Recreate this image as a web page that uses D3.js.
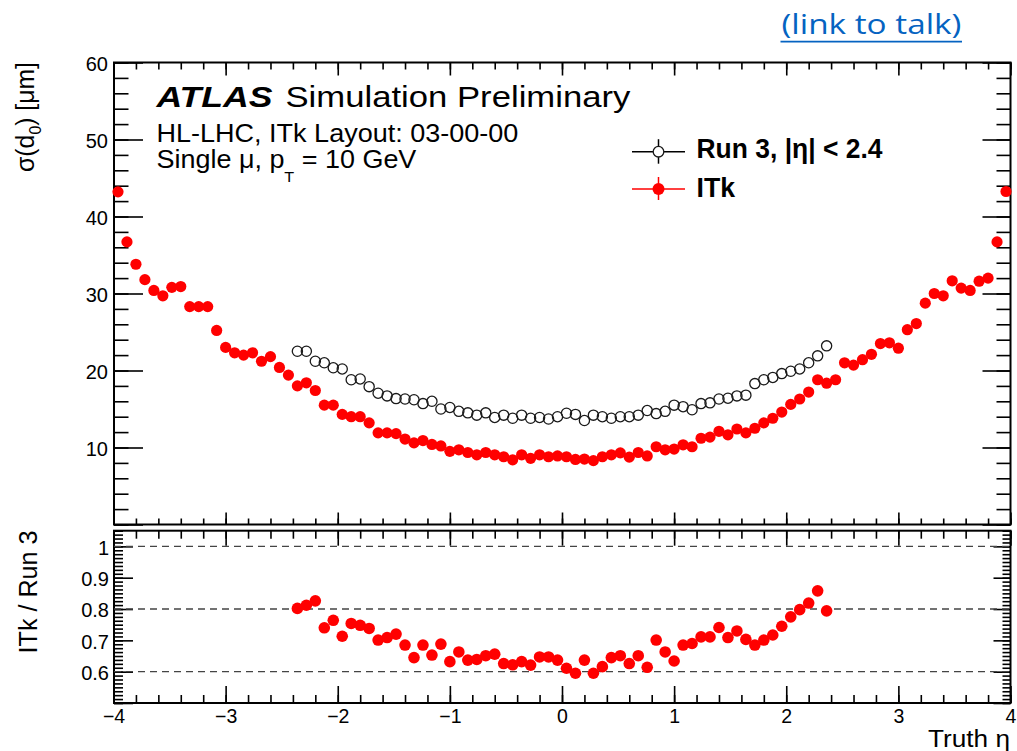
<!DOCTYPE html>
<html>
<head>
<meta charset="utf-8">
<script src="https://cdn.jsdelivr.net/npm/d3@7"></script>
<style>
  html, body { margin: 0; padding: 0; background: #fff; }
  svg { display: block; }
</style>
</head>
<body>
<svg id="chart" width="1017" height="751"></svg>
<script>
// Bin centres in truth eta (100 bins over -4..4)
const etaCentres = [
  -3.96,-3.88,-3.80,-3.72,-3.64,-3.56,-3.48,-3.40,-3.32,-3.24,
  -3.16,-3.08,-3.00,-2.92,-2.84,-2.76,-2.68,-2.60,-2.52,-2.44,
  -2.36,-2.28,-2.20,-2.12,-2.04,-1.96,-1.88,-1.80,-1.72,-1.64,
  -1.56,-1.48,-1.40,-1.32,-1.24,-1.16,-1.08,-1.00,-0.92,-0.84,
  -0.76,-0.68,-0.60,-0.52,-0.44,-0.36,-0.28,-0.20,-0.12,-0.04,
   0.04, 0.12, 0.20, 0.28, 0.36, 0.44, 0.52, 0.60, 0.68, 0.76,
   0.84, 0.92, 1.00, 1.08, 1.16, 1.24, 1.32, 1.40, 1.48, 1.56,
   1.64, 1.72, 1.80, 1.88, 1.96, 2.04, 2.12, 2.20, 2.28, 2.36,
   2.44, 2.52, 2.60, 2.68, 2.76, 2.84, 2.92, 3.00, 3.08, 3.16,
   3.24, 3.32, 3.40, 3.48, 3.56, 3.64, 3.72, 3.80, 3.88, 3.96
];

// sigma(d0) [um] for the ITk layout, one value per bin
const itkSigma = [
  43.2, 36.7, 33.8, 31.8, 30.4, 29.7, 30.8, 30.9, 28.3, 28.3,
  28.3, 25.2, 23.0, 22.3, 22.0, 22.3, 21.2, 21.8, 20.4, 19.4,
  18.0, 18.4, 17.4, 15.5, 15.5, 14.3, 14.0, 14.0, 13.2, 11.9,
  11.9, 11.8, 11.1, 10.6, 10.9, 10.4, 10.2,  9.5,  9.7,  9.35,
   9.05, 9.35, 9.05, 8.8,  8.4,  9.05, 8.6,  9.05, 8.8,  8.9,
   8.8,  8.45, 8.5,  8.3,  8.8,  9.05, 9.3,  8.75, 9.35, 8.9,
  10.1,  9.7,  9.8, 10.35,10.1, 11.2, 11.35,12.1, 11.65,12.4,
  11.9, 12.5, 13.2, 13.8, 14.6, 15.6, 16.3, 17.2, 18.8, 18.35,
  18.8, 21.0, 20.7, 21.4, 22.1, 23.5, 23.6, 22.9, 25.3, 26.1,
  28.75,30.0, 29.7, 31.65,30.7, 30.4, 31.6, 32.0, 36.7, 43.25
];

// Run 3 detector covers |eta| < 2.4: bins 20..79
const run3Eta = etaCentres.slice(20, 80);
const run3Sigma = [
  22.5, 22.5, 21.2, 21.0, 20.35,20.2, 18.8, 18.9, 17.9, 17.05,
  16.7, 16.35,16.3, 16.2, 15.7, 16.0, 15.0, 15.2, 14.7, 14.5,
  14.2, 14.5, 13.9, 14.2, 13.8, 14.2, 13.8, 13.9, 13.7, 14.0,
  14.45,14.3, 13.5, 14.2, 14.0, 13.8, 14.0, 14.0, 14.2, 14.8,
  14.4, 14.7, 15.5, 15.3, 14.9, 15.7, 15.8, 16.3, 16.4, 16.7,
  16.8, 18.3, 18.8, 19.1, 19.6, 19.9, 20.2, 21.0, 21.9, 23.2
];

// ITk / Run 3 ratio over the same bins
const ratioEta = run3Eta;
const ratioValues = [
  0.802, 0.812, 0.826, 0.740, 0.764, 0.713, 0.754, 0.748, 0.738, 0.701,
  0.709, 0.720, 0.685, 0.645, 0.685, 0.653, 0.688, 0.632, 0.663, 0.637,
  0.639, 0.651, 0.656, 0.626, 0.622, 0.632, 0.621, 0.647, 0.647, 0.637,
  0.611, 0.595, 0.637, 0.595, 0.616, 0.645, 0.651, 0.626, 0.651, 0.614,
  0.701, 0.663, 0.634, 0.685, 0.690, 0.711, 0.711, 0.741, 0.709, 0.730,
  0.703, 0.685, 0.701, 0.717, 0.745, 0.775, 0.798, 0.819, 0.858, 0.794
];

// Axis ticks and labels
const xTicks = [-4, -3, -2, -1, 0, 1, 2, 3, 4];
const xTickLabels = ["\u22124", "\u22123", "\u22122", "\u22121", "0", "1", "2", "3", "4"];
const sigmaTicks = [10, 20, 30, 40, 50, 60];
const ratioTicks = [0.6, 0.7, 0.8, 0.9, 1.0];
const ratioTickLabels = ["0.6", "0.7", "0.8", "0.9", "1"];
const ratioRefLines = [0.6, 0.8, 1.0];

const svg = d3.select("#chart");
svg.append("rect").attr("width", 1017).attr("height", 751).attr("fill", "#fff");

// Frame geometry
const L = 114, R = 1010.5;
const topPanel = { top: 62.5, bottom: 524.5 };
const lowPanel = { top: 530.7, bottom: 703 };

const x = d3.scaleLinear().domain([-4, 4]).range([113.5, 1010.5]);
const ySig = d3.scaleLinear().domain([0, 60]).range([topPanel.bottom, topPanel.top]);
const yRat = d3.scaleLinear().domain([0.5, 1.05]).range([lowPanel.bottom, lowPanel.top]);

const xMinor = d3.range(-4, 4.0001, 0.2).map(v => +v.toFixed(2));
const xMajor = xTicks;
const sigMinor = d3.range(0, 60.001, 2);
const sigMajor = d3.range(0, 60.001, 10);
const ratMinor = d3.range(0.5, 1.0501, 0.0125).map(v => +v.toFixed(4));
const ratMajor = [0.5, 0.6, 0.7, 0.8, 0.9, 1.0];

function tickAxis(axisFn, scale, values, size, tx, ty) {
  const g = svg.append("g")
    .attr("transform", `translate(${tx},${ty})`)
    .call(axisFn(scale).tickValues(values).tickSize(size).tickFormat(""));
  g.select(".domain").remove();
  g.selectAll(".tick line").attr("stroke", "#000").attr("stroke-width", 1.6);
  return g;
}

// ---- upper panel ticks ----
tickAxis(d3.axisBottom, x, xMinor, 7, 0, topPanel.top);
tickAxis(d3.axisBottom, x, xMajor, 13, 0, topPanel.top);
tickAxis(d3.axisTop, x, xMinor, 6, 0, topPanel.bottom);
tickAxis(d3.axisTop, x, xMajor, 12, 0, topPanel.bottom);
tickAxis(d3.axisRight, ySig, sigMinor, 14.5, L, 0);
tickAxis(d3.axisRight, ySig, sigMajor, 29, L, 0);
tickAxis(d3.axisLeft, ySig, sigMinor, 14, R, 0);
tickAxis(d3.axisLeft, ySig, sigMajor, 28, R, 0);

// ---- lower panel ticks ----
tickAxis(d3.axisBottom, x, xMinor, 8, 0, lowPanel.top);
tickAxis(d3.axisBottom, x, xMajor, 15, 0, lowPanel.top);
tickAxis(d3.axisTop, x, xMinor, 8, 0, lowPanel.bottom);
tickAxis(d3.axisTop, x, xMajor, 17, 0, lowPanel.bottom);
tickAxis(d3.axisRight, yRat, ratMinor, 9, L, 0);
tickAxis(d3.axisRight, yRat, ratMajor, 19, L, 0);
tickAxis(d3.axisLeft, yRat, ratMinor, 8, R, 0);
tickAxis(d3.axisLeft, yRat, ratMajor, 17, R, 0);

// Tick labels
function labelAxis(axisFn, scale, values, labels, pad, tx, ty, size) {
  const g = svg.append("g")
    .attr("transform", `translate(${tx},${ty})`)
    .call(axisFn(scale).tickValues(values).tickSize(0).tickPadding(pad)
      .tickFormat((d, i) => labels[i]));
  g.select(".domain").remove();
  g.attr("font-family", "Liberation Sans, Arial, sans-serif")
    .attr("font-size", size);
  g.selectAll("text").attr("fill", "#000");
  return g;
}
labelAxis(d3.axisLeft, ySig, sigmaTicks, sigmaTicks.map(String), 6, L, 2, 20);
labelAxis(d3.axisLeft, yRat, ratioTicks, ratioTickLabels, 5, L, 1.5, 20);
labelAxis(d3.axisBottom, x, xTicks, xTickLabels, 6, 0, lowPanel.bottom, 19.5);

// Frames
[topPanel, lowPanel].forEach(p => {
  svg.append("rect")
    .attr("x", L).attr("y", p.top)
    .attr("width", R - L).attr("height", p.bottom - p.top)
    .attr("fill", "none").attr("stroke", "#000").attr("stroke-width", 2);
});

// Reference lines in the ratio panel
svg.append("g").selectAll("line").data(ratioRefLines).join("line")
  .attr("x1", L).attr("x2", R)
  .attr("y1", d => yRat(d)).attr("y2", d => yRat(d))
  .attr("stroke", "#444").attr("stroke-width", 1.3)
  .attr("stroke-dasharray", "7,5");

// ---- markers ----
svg.append("g").selectAll("circle")
  .data(d3.zip(etaCentres, itkSigma)).join("circle")
  .attr("cx", d => x(d[0])).attr("cy", d => ySig(d[1]))
  .attr("r", 5.6).attr("fill", "#ff0000");

svg.append("g").selectAll("circle")
  .data(d3.zip(run3Eta, run3Sigma)).join("circle")
  .attr("cx", d => x(d[0])).attr("cy", d => ySig(d[1]))
  .attr("r", 5.1).attr("fill", "none")
  .attr("stroke", "#1a1a1a").attr("stroke-width", 1.3);

svg.append("g").selectAll("circle")
  .data(d3.zip(ratioEta, ratioValues)).join("circle")
  .attr("cx", d => x(d[0])).attr("cy", d => yRat(d[1]))
  .attr("r", 5.8).attr("fill", "#ff0000");

// ---- text helper: draws a text and stretches it horizontally to a width ----
function placeText(opt) {
  const g = svg.append("g");
  const t = g.append("text")
    .attr("x", 0).attr("y", 0)
    .attr("text-anchor", opt.anchor || "start")
    .attr("font-size", opt.size)
    .attr("font-weight", opt.weight || "normal")
    .attr("font-style", opt.style || "normal")
    .attr("font-family", opt.family || "Liberation Sans, Arial, sans-serif")
    .attr("fill", opt.fill || "#000");
  opt.parts.forEach(p => {
    const ts = t.append("tspan").text(p.text);
    if (p.size) ts.attr("font-size", p.size);
    if (p.dy) ts.attr("dy", p.dy);
  });
  const w = t.node().getComputedTextLength();
  const s = opt.width ? opt.width / w : 1;
  g.attr("transform",
    `translate(${opt.x},${opt.y}) rotate(${opt.rotate || 0}) scale(${s},1)`);
  return g;
}

// ATLAS label block
placeText({ x: 156.5, y: 106.7, size: 29, weight: "bold", style: "italic",
  width: 116, parts: [{ text: "ATLAS" }] });
placeText({ x: 285.5, y: 106.7, size: 29, width: 345,
  parts: [{ text: "Simulation Preliminary" }] });
placeText({ x: 156.5, y: 141.7, size: 25.5, width: 362,
  parts: [{ text: "HL-LHC, ITk Layout: 03-00-00" }] });
placeText({ x: 156.5, y: 168.3, size: 25, width: 260,
  parts: [{ text: "Single \u03bc, p" }, { text: "T", size: 15, dy: 14 },
          { text: " = 10 GeV", dy: -14 }] });

// Legend
const legX1 = 632, legX2 = 685, legMid = 658.5;
const legRun3Y = 151.7, legItkY = 189;
svg.append("line").attr("x1", legX1).attr("x2", legX2)
  .attr("y1", legRun3Y).attr("y2", legRun3Y)
  .attr("stroke", "#000").attr("stroke-width", 1.5);
svg.append("line").attr("x1", legMid).attr("x2", legMid)
  .attr("y1", legRun3Y - 12.5).attr("y2", legRun3Y + 12)
  .attr("stroke", "#000").attr("stroke-width", 1.5);
svg.append("circle").attr("cx", legMid).attr("cy", legRun3Y).attr("r", 5.3)
  .attr("fill", "#fff").attr("stroke", "#1a1a1a").attr("stroke-width", 1.3);

svg.append("line").attr("x1", legX1).attr("x2", legX2)
  .attr("y1", legItkY).attr("y2", legItkY)
  .attr("stroke", "#ff0000").attr("stroke-width", 1.5);
svg.append("line").attr("x1", legMid).attr("x2", legMid)
  .attr("y1", legItkY - 12).attr("y2", legItkY + 11)
  .attr("stroke", "#ff0000").attr("stroke-width", 1.5);
svg.append("circle").attr("cx", legMid).attr("cy", legItkY).attr("r", 6)
  .attr("fill", "#ff0000");

placeText({ x: 696.5, y: 158.3, size: 27, weight: "bold", width: 186,
  parts: [{ text: "Run 3, |\u03b7| < 2.4" }] });
placeText({ x: 696.5, y: 197.3, size: 27, weight: "bold", width: 38.5,
  parts: [{ text: "ITk" }] });

// Axis titles
placeText({ x: 34, y: 62, rotate: -90, anchor: "end", size: 25, width: 110,
  parts: [{ text: "\u03c3(d" }, { text: "0", size: 16, dy: 7 },
          { text: ") [\u03bcm]", dy: -7 }] });
placeText({ x: 37, y: 530.5, rotate: -90, anchor: "end", size: 26, width: 123,
  parts: [{ text: "ITk / Run 3" }] });
placeText({ x: 1010, y: 746.7, anchor: "end", size: 23, width: 82,
  parts: [{ text: "Truth \u03b7" }] });

// Link caption
placeText({ x: 781.5, y: 34, size: 27, width: 180, family: "Open Sans, sans-serif",
  fill: "#0563C1", parts: [{ text: "(link to talk)" }] });
svg.append("line").attr("x1", 780.5).attr("x2", 962)
  .attr("y1", 41.7).attr("y2", 41.7)
  .attr("stroke", "#0563C1").attr("stroke-width", 1.8);
</script>
</body>
</html>
